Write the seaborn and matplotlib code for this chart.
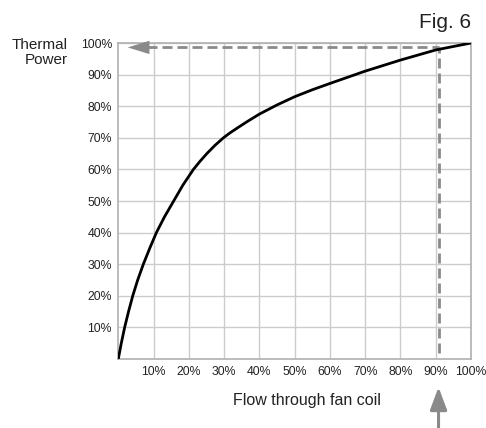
import numpy as np
import pandas as pd
import matplotlib
matplotlib.use("Agg")
import matplotlib.pyplot as plt
import seaborn as sns

# curve (flow % -> thermal power %)
flow = [0, 0.85, 1.8, 2.9, 4.1, 5.5, 7.1, 8.9, 10.8, 13.1, 15.7, 18.3, 21.3, 23.2, 25.1,
        27.4, 29.8, 31.6, 33.6, 36.5, 40, 45, 50, 55, 60, 70, 80, 90, 100]
power = [0, 5, 10, 15, 20, 25, 30, 35, 40, 45, 50, 55, 60, 62.6, 65, 67.6, 70, 71.5, 73, 75.1,
         77.5, 80.4, 83, 85.2, 87.2, 91.1, 94.6, 97.8, 100]
tick_vals = [10, 20, 30, 40, 50, 60, 70, 80, 90, 100]
tick_labels = [f"{v}%" for v in tick_vals]
mark_flow = 90.8
mark_power = 98.6

sns.set_theme(style="white")
plt.rcParams["font.family"] = ["Liberation Sans", "DejaVu Sans"]

fig = plt.figure(figsize=(4.86, 4.28), dpi=100)
ax = fig.add_axes([0.2434, 0.1612, 0.7257, 0.7383])

df = pd.DataFrame({"flow": flow, "power": power})
sns.lineplot(data=df, x="flow", y="power", color="black", linewidth=2.0, ax=ax, zorder=4)

# dashed guide lines
guide = "#8a8a8a"
ax.plot([mark_flow, mark_flow], [2, mark_power], color=guide, linestyle=(0, (3.6, 1.8)), linewidth=2, zorder=3)
ax.plot([8, mark_flow], [mark_power, mark_power], color=guide, linestyle=(0, (3.6, 1.8)), linewidth=2, zorder=3)
ax.annotate("", xy=(1.9, mark_power), xytext=(7.5, mark_power),
            arrowprops=dict(arrowstyle="-|>,head_length=1.3,head_width=0.4", color=guide, lw=0))
ax.annotate("", xy=(mark_flow, -8.9), xytext=(mark_flow, -24), annotation_clip=False,
            arrowprops=dict(arrowstyle="-|>,head_length=1.15,head_width=0.43", color=guide, lw=2.2,
                            shrinkA=0, shrinkB=0))

ax.set_xlim(0, 100)
ax.set_ylim(0, 100)
ax.set_xticks(tick_vals)
ax.set_xticklabels(tick_labels, fontsize=8.8, color="#222222")
ax.set_yticks(tick_vals)
ax.set_yticklabels(tick_labels, fontsize=8.8, color="#222222")
ax.tick_params(axis="x", length=0, pad=5)
ax.tick_params(axis="y", length=0, pad=4.5)
ax.grid(True, color="#cccccc", linewidth=1)
for s in ax.spines.values():
    s.set_color("#b0b0b0")
    s.set_linewidth(1.2)

ax.set_xlabel("")
ax.set_ylabel("")
fig.text(0.631, 0.0654, "Flow through fan coil", fontsize=11.5, ha="center", va="center", color="#222222")
fig.text(0.14, 0.877, "Thermal\nPower", fontsize=11, ha="right", va="center",
         multialignment="right", linespacing=1.15, color="#222222")
fig.text(0.969, 0.947, "Fig. 6", fontsize=15, ha="right", va="center", color="#222222")

fig.savefig("out.png", dpi=100)
